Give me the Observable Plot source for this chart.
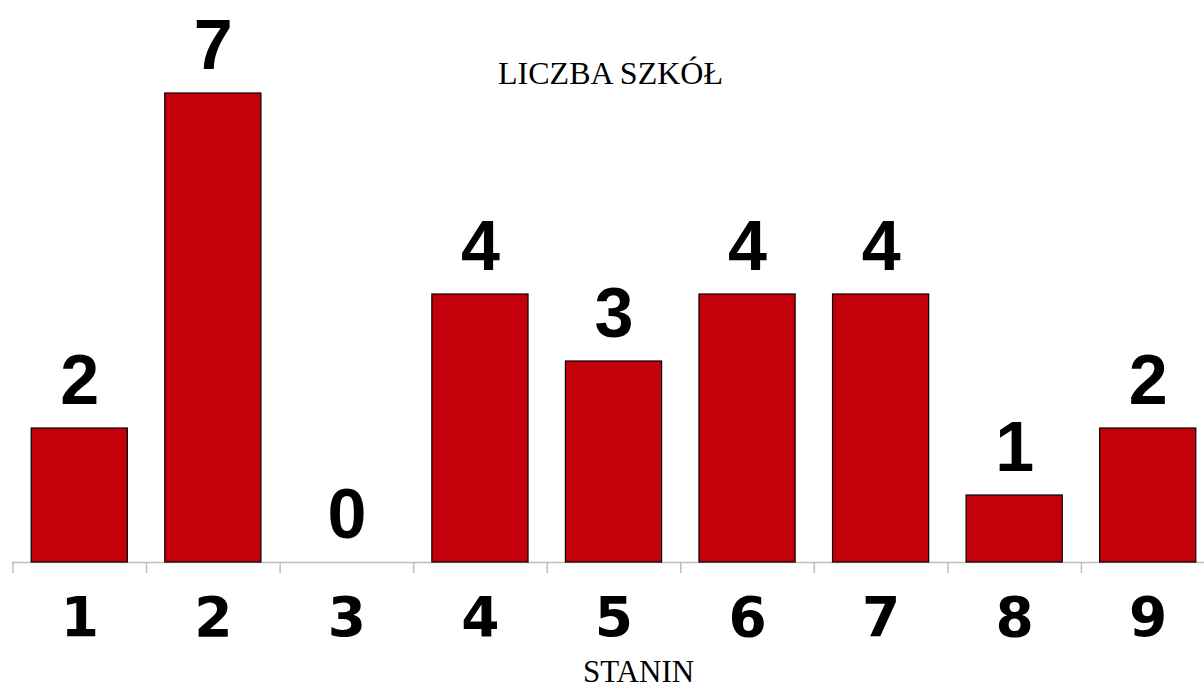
<!DOCTYPE html>
<html>
<head>
<meta charset="utf-8">
<script src="https://cdn.jsdelivr.net/npm/d3@7"></script>
<script src="https://cdn.jsdelivr.net/npm/@observablehq/plot@0.6"></script>
<style>
  html, body { margin: 0; padding: 0; background: #fff; }
  svg { display: block; }
  .ticklab text { font-family: "DejaVu Sans"; font-weight: bold; }
</style>
</head>
<body>
<div id="chart"></div>
<script>
const stanins = ["1", "2", "3", "4", "5", "6", "7", "8", "9"];
const counts = [2, 7, 0, 4, 3, 4, 4, 1, 2];
const title = "LICZBA SZKÓŁ";
const xLabel = "STANIN";

const data = stanins.map((s, i) => ({stanin: s, count: counts[i]}));
const W = 1204, H = 689;
const x0 = 12.5, x1 = 1214.5;
const step = (x1 - x0) / stanins.length;

const chart = Plot.plot({
  width: W,
  height: H,
  marginTop: 93,
  marginBottom: 127,
  marginLeft: 12,
  marginRight: 0,
  style: {background: "#fff"},
  x: {type: "band", domain: stanins, range: [x0, x1], round: false, paddingInner: 0.28, paddingOuter: 0.14, axis: null, label: null},
  y: {domain: [0, 7], axis: null, label: null},
  marks: [
    Plot.ruleY([0], {stroke: "#bdbdbd", strokeWidth: 1.5}),
    Plot.axisX({tickSize: 11, tickFormat: () => "", label: null, dx: -step / 2, stroke: "#bdbdbd", strokeWidth: 1.5}),
    Plot.barY(data, {x: "stanin", y: "count", fill: "#c4000b", stroke: "#000", strokeWidth: 1.2}),
    Plot.text(data, {x: "stanin", y: "count", text: d => String(d.count), lineAnchor: "bottom", dy: -25,
      fontSize: 70, fontWeight: "bold", fontFamily: "'Liberation Sans', Arial, sans-serif", fill: "#000"}),
    Plot.text(stanins, {x: d => d, text: d => d, frameAnchor: "bottom", lineAnchor: "bottom", dy: 73,
      fontSize: 55, fontWeight: "bold", fontFamily: "DejaVu Sans", className: "ticklab", fill: "#000"}),
    Plot.text([title], {text: d => d, frameAnchor: "top", lineAnchor: "bottom", dy: -10, dx: 2,
      fontSize: 32, fontFamily: "'Liberation Serif', 'Times New Roman', serif", fill: "#000"}),
    Plot.text([xLabel], {text: d => d, frameAnchor: "bottom", lineAnchor: "bottom", dy: 119, dx: 30,
      fontSize: 31, fontFamily: "'Liberation Serif', 'Times New Roman', serif", fill: "#000"})
  ]
});
document.getElementById("chart").appendChild(chart);
</script>
</body>
</html>
